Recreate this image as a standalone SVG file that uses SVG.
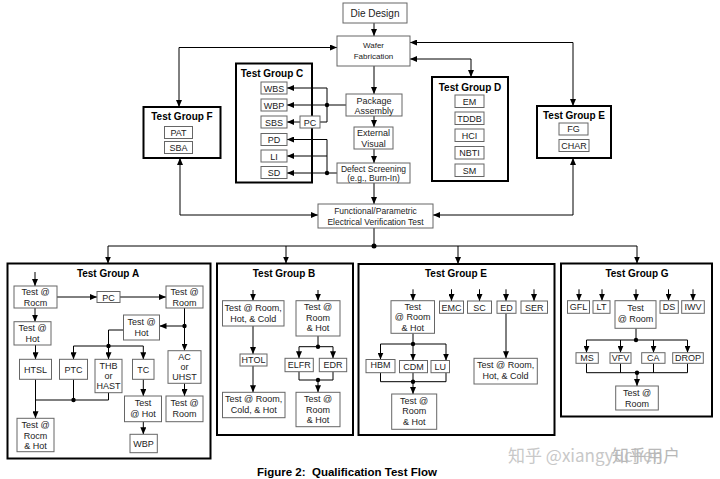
<svg xmlns="http://www.w3.org/2000/svg" width="720" height="479" viewBox="0 0 720 479">
<style>
.b{fill:#fff;stroke:#666;stroke-width:1}
.g{fill:none;stroke:#000;stroke-width:2}
text{font-family:"Liberation Sans",Arial,sans-serif;font-size:9px;text-anchor:middle;fill:#222}
.h{font-weight:bold;font-size:10px;fill:#000}
.s8{font-size:8px}
.s85{font-size:8.5px}
.s10{font-size:10px}
#connectors path{fill:none;stroke:#000;stroke-width:1}
.a{marker-end:url(#ah)}
.d{marker-start:url(#ah);marker-end:url(#ah)}
.wm{font-family:"Noto Sans CJK SC","Liberation Sans",sans-serif;font-size:17px;fill:#c8c8c8;text-anchor:start}
</style>
<defs>
<marker id="ah" viewBox="0 0 7 6" refX="7" refY="3" markerWidth="7" markerHeight="6" markerUnits="userSpaceOnUse" orient="auto-start-reverse">
<path d="M0,0 L7,3 L0,6 z" fill="#000"/>
</marker>
</defs>
<rect width="720" height="479" fill="#fff"/>

<g id="connectors">
<path class="a" d="M374,23 V36"/>
<path class="a" d="M374,66 V94"/>
<path class="a" d="M374,116 V127"/>
<path class="a" d="M374,149 V163"/>
<path class="a" d="M374,183 V204"/>
<path class="d" d="M179,107 V47.5 H337"/>
<path class="d" d="M180,158 V215 H318"/>
<path class="d" d="M410,42.5 H573 V106"/>
<path class="d" d="M573,158 V215 H433"/>
<path class="d" d="M410,59 H471 V77"/>
<path class="a" d="M346,105 H287"/>
<path class="a" d="M320,122 H327 V88 H287"/>
<path class="a" d="M300,122 H287"/>
<path class="a" d="M337,173 H287"/>
<path class="a" d="M327,173 V139.5 H287"/>
<path class="a" d="M327,156 H287"/>
<path d="M374,228 V246 M108,246 H637"/>
<path class="a" d="M108,246 V263.5"/>
<path class="a" d="M286,246 V263.5"/>
<path class="a" d="M458,246 V264"/>
<path class="a" d="M637,246 V263.5"/>
<!-- Group A -->
<path class="a" d="M35,272 V286"/>
<path class="a" d="M57,297 H97"/>
<path class="a" d="M120,297 H166"/>
<path class="a" d="M35,308 V321.7"/>
<path class="a" d="M184.5,308 V350.7"/>
<path class="a" d="M184.5,326 H159.5"/>
<path d="M123.5,330 H108.5 V346 M73.5,346 H143.3"/>
<path class="a" d="M73.5,346 V359.3"/>
<path class="a" d="M108.5,346 V359.3"/>
<path class="a" d="M143.3,346 V359.3"/>
<path class="a" d="M35.5,345 V359.3"/>
<path class="a" d="M35.5,379.3 V418.3"/>
<path d="M73.5,379.3 V400 M108.5,392.7 V400 M35.5,400 H108.5"/>
<path class="a" d="M143.3,379.3 V396"/>
<path class="a" d="M143.3,421.7 V434.3"/>
<path class="a" d="M184.5,383.3 V396"/>
<!-- Group B -->
<path class="a" d="M253,290 V300.7"/>
<path class="a" d="M253,326 V354"/>
<path class="a" d="M253,366 V392.3"/>
<path class="a" d="M318,290 V300.7"/>
<path d="M318,336 V346.7 M299,346.7 H333"/>
<path class="a" d="M299,346.7 V358.3"/>
<path class="a" d="M333,346.7 V358.3"/>
<path d="M299,371.7 V380 H333 V371.7"/>
<path class="a" d="M318,380 V392.3"/>
<!-- Group E bottom -->
<path class="a" d="M413,289.3 V300.7"/>
<path class="a" d="M451.5,289.3 V301"/>
<path class="a" d="M479.5,289.3 V301"/>
<path class="a" d="M506,289.3 V301"/>
<path class="a" d="M534,289.3 V301"/>
<path class="a" d="M506,313.3 V358.3"/>
<path d="M413,333.3 V344 M380.5,344 H446"/>
<path class="a" d="M380.5,344 V359.5"/>
<path class="a" d="M413,344 V360.5"/>
<path class="a" d="M446,344 V360.5"/>
<path d="M380.5,372.7 V381.7 H446 V372.7 M413,372.7 V381.7"/>
<path class="a" d="M413,381.7 V394"/>
<!-- Group G -->
<path class="a" d="M579,289.3 V300.7"/>
<path class="a" d="M602,289.3 V300.7"/>
<path class="a" d="M636,289.3 V300.7"/>
<path class="a" d="M668.5,289.3 V300.7"/>
<path class="a" d="M693,289.3 V300.7"/>
<path d="M636,328.3 V340 M586.5,340 H687.5"/>
<path class="a" d="M586.5,340 V352.7"/>
<path class="a" d="M620.5,340 V352.7"/>
<path class="a" d="M653.5,340 V352.7"/>
<path class="a" d="M687.5,340 V352.7"/>
<path d="M586.5,363.3 V372.7 H687.5 V363.3 M620.5,363.3 V372.7 M653.5,363.3 V372.7"/>
<path class="a" d="M637,372.7 V386"/>
<g fill="#000" stroke="none">
<circle cx="327" cy="105" r="2.2"/>
<circle cx="327" cy="173" r="2.2"/>
<circle cx="374" cy="246" r="2.5"/>
<circle cx="184.5" cy="326" r="2.2"/>
<circle cx="108.5" cy="346" r="2.2"/>
<circle cx="73.5" cy="400" r="2.2"/>
<circle cx="318" cy="346.7" r="2.2"/>
<circle cx="318" cy="380" r="2.2"/>
<circle cx="413" cy="344" r="2.2"/>
<circle cx="413" cy="381.7" r="2.2"/>
<circle cx="636" cy="340" r="2.2"/>
<circle cx="637" cy="372.7" r="2.2"/>
</g>
</g>

<g id="die-design"><rect class="b" x="343" y="3" width="64" height="20"/><text class="s10" x="375" y="17">Die Design</text></g>
<g id="wafer-fab"><rect class="b" x="337" y="36" width="73" height="30"/><text class="s8" x="373.5" y="48">Wafer</text><text class="s8" x="373.5" y="59">Fabrication</text></g>
<g id="package-assembly"><rect class="b" x="346" y="94" width="56" height="22"/><text x="374" y="103.5">Package</text><text x="374" y="113.5">Assembly</text></g>
<g id="external-visual"><rect class="b" x="354" y="127" width="39" height="22"/><text x="373.5" y="136">External</text><text x="373.5" y="146.5">Visual</text></g>
<g id="defect-screening"><rect class="b" x="337" y="163" width="73" height="20"/><text class="s85" x="373.5" y="171.5">Defect Screening</text><text class="s85" x="373.5" y="181">(e.g., Burn-In)</text></g>
<g id="functional-test"><rect class="b" x="318" y="204" width="115" height="24"/><text class="s85" x="375.5" y="213.5">Functional/Parametric</text><text class="s85" x="375.5" y="224.5">Electrical Verification Test</text></g>

<g id="group-f"><rect class="g" x="143.5" y="107" width="77" height="51"/><text class="h" x="182" y="120">Test Group F</text>
<rect class="b" x="164.5" y="126.5" width="28" height="12"/><text x="178.5" y="135.8">PAT</text>
<rect class="b" x="164.5" y="141.5" width="28" height="12"/><text x="178.5" y="150.8">SBA</text></g>

<g id="group-c"><rect class="g" x="236" y="63.5" width="76" height="119"/><text class="h" x="272" y="77">Test Group C</text>
<rect class="b" x="261" y="82" width="26" height="12"/><text x="274" y="91.5">WBS</text>
<rect class="b" x="261" y="99" width="26" height="12"/><text x="274" y="108.5">WBP</text>
<rect class="b" x="261" y="116" width="26" height="12"/><text x="274" y="125.5">SBS</text>
<rect class="b" x="261" y="133.5" width="26" height="12"/><text x="274" y="143">PD</text>
<rect class="b" x="261" y="150" width="26" height="12"/><text x="274" y="159.5">LI</text>
<rect class="b" x="261" y="166.5" width="26" height="12"/><text x="274" y="176">SD</text>
<rect class="b" x="300" y="116" width="20" height="12"/><text x="310" y="125.5">PC</text></g>

<g id="group-d"><rect class="g" x="432" y="77" width="76" height="104"/><text class="h" x="470" y="91">Test Group D</text>
<rect class="b" x="455" y="95" width="29" height="12.5"/><text x="469.5" y="104.5">EM</text>
<rect class="b" x="455" y="112" width="29" height="12.5"/><text x="469.5" y="121.5">TDDB</text>
<rect class="b" x="455" y="129" width="29" height="12.5"/><text x="469.5" y="138.5">HCI</text>
<rect class="b" x="455" y="146.5" width="29" height="12.5"/><text x="469.5" y="156">NBTI</text>
<rect class="b" x="455" y="164" width="29" height="12.5"/><text x="469.5" y="173.5">SM</text></g>

<g id="group-e-top"><rect class="g" x="537" y="106" width="74" height="52"/><text class="h" x="574" y="119">Test Group E</text>
<rect class="b" x="559" y="123" width="29" height="12"/><text x="573.5" y="132.3">FG</text>
<rect class="b" x="559" y="139.5" width="30" height="12"/><text x="574" y="148.8">CHAR</text></g>

<g id="group-a"><rect class="g" x="7.5" y="263.5" width="203" height="195"/><text class="h" x="108" y="276.5">Test Group A</text>
<rect class="b" x="14" y="286" width="43" height="22"/><text x="35.5" y="295">Test @</text><text x="35.5" y="305.5">Rocm</text>
<rect class="b" x="97" y="291.5" width="23" height="11"/><text x="108.5" y="300.5">PC</text>
<rect class="b" x="166" y="286" width="37" height="22"/><text x="184.5" y="295">Test @</text><text x="184.5" y="305.5">Room</text>
<rect class="b" x="14" y="321.7" width="37" height="23.3"/><text x="32.5" y="331">Test @</text><text x="32.5" y="341.5">Hot</text>
<rect class="b" x="123.5" y="315" width="36" height="25"/><text x="141.5" y="325">Test @</text><text x="141.5" y="336">Hot</text>
<rect class="b" x="19.5" y="359.3" width="32" height="20"/><text x="35.5" y="372.5">HTSL</text>
<rect class="b" x="59.5" y="359.3" width="28" height="20"/><text x="73.5" y="372.5">PTC</text>
<rect class="b" x="95" y="359.3" width="27" height="33.4"/><text x="108.5" y="368.5">THB</text><text x="108.5" y="378.5">or</text><text x="108.5" y="388.5">HAST</text>
<rect class="b" x="132.5" y="359.3" width="21.5" height="20"/><text x="143.3" y="372.5">TC</text>
<rect class="b" x="168" y="350.7" width="33" height="32.6"/><text x="184.5" y="360">AC</text><text x="184.5" y="370">or</text><text x="184.5" y="380">UHST</text>
<rect class="b" x="17" y="418.3" width="37" height="33.4"/><text x="35.5" y="428">Test @</text><text x="35.5" y="438.5">Rocm</text><text x="35.5" y="449">&amp; Hot</text>
<rect class="b" x="124.5" y="396" width="37" height="25.7"/><text x="143" y="405.5">Test</text><text x="143" y="416.5">@ Hot</text>
<rect class="b" x="130" y="434.3" width="27.3" height="18.4"/><text x="143.6" y="446.5">WBP</text>
<rect class="b" x="166" y="396" width="37" height="25.7"/><text x="184.5" y="405.5">Test @</text><text x="184.5" y="416.5">Room</text></g>

<g id="group-b"><rect class="g" x="217" y="263.5" width="136" height="171.5"/><text class="h" x="284" y="277">Test Group B</text>
<rect class="b" x="222.5" y="300.7" width="61.5" height="25.3"/><text x="253.2" y="310.5">Test @ Room,</text><text x="253.2" y="321.5">Hot, &amp; Cold</text>
<rect class="b" x="240" y="354" width="27" height="12"/><text x="253.5" y="363.3">HTOL</text>
<rect class="b" x="222.5" y="392.3" width="62.5" height="25.4"/><text x="253.7" y="402">Test @ Room,</text><text x="253.7" y="413">Cold, &amp; Hot</text>
<rect class="b" x="296" y="300.7" width="44" height="35.3"/><text x="318" y="310">Test @</text><text x="318" y="320.5">Room</text><text x="318" y="331">&amp; Hot</text>
<rect class="b" x="285" y="358.3" width="28.3" height="13.4"/><text x="299.2" y="368.3">ELFR</text>
<rect class="b" x="319.3" y="358.3" width="27.4" height="13.4"/><text x="333" y="368.3">EDR</text>
<rect class="b" x="296" y="392.3" width="44" height="34.4"/><text x="318" y="402">Test @</text><text x="318" y="412.5">Room</text><text x="318" y="423">&amp; Hot</text></g>

<g id="group-e-bottom"><rect class="g" x="358.5" y="264" width="196" height="171"/><text class="h" x="456" y="276.5">Test Group E</text>
<rect class="b" x="391" y="300.7" width="43.5" height="32.6"/><text x="412.7" y="309.5">Test</text><text x="412.7" y="320">@ Room</text><text x="412.7" y="330.5">&amp; Hot</text>
<rect class="b" x="439.5" y="301" width="24" height="12.3"/><text x="451.5" y="310.5">EMC</text>
<rect class="b" x="467.5" y="301" width="24" height="12.3"/><text x="479.5" y="310.5">SC</text>
<rect class="b" x="497" y="301" width="19" height="12.3"/><text x="506.5" y="310.5">ED</text>
<rect class="b" x="521" y="301" width="26.5" height="12.3"/><text x="534.2" y="310.5">SER</text>
<rect class="b" x="474" y="358.3" width="63.3" height="25.7"/><text x="505.6" y="368">Test @ Room,</text><text x="505.6" y="379">Hot, &amp; Cold</text>
<rect class="b" x="366" y="359.5" width="29" height="13.2"/><text x="380.5" y="367.8">HBM</text>
<rect class="b" x="399.5" y="360.5" width="28" height="12.2"/><text x="413.5" y="369.8">CDM</text>
<rect class="b" x="431" y="360.5" width="18.5" height="12.2"/><text x="440.2" y="369.8">LU</text>
<rect class="b" x="391.7" y="394" width="45" height="35.3"/><text x="414.2" y="403.5">Test @</text><text x="414.2" y="414">Room</text><text x="414.2" y="424.5">&amp; Hot</text></g>

<g id="group-g"><rect class="g" x="561" y="263.5" width="151" height="153"/><text class="h" x="637" y="277">Test Group G</text>
<rect class="b" x="567.5" y="300.7" width="22" height="12.6"/><text x="578.5" y="310.3">GFL</text>
<rect class="b" x="593" y="300.7" width="17" height="12.6"/><text x="601.5" y="310.3">LT</text>
<rect class="b" x="615" y="300.7" width="41" height="27.6"/><text x="635.5" y="310.5">Test</text><text x="635.5" y="322">@ Room</text>
<rect class="b" x="660" y="300.7" width="18.3" height="12.6"/><text x="669" y="310.3">DS</text>
<rect class="b" x="681.7" y="300.7" width="22.6" height="12.6"/><text x="693" y="310.3">IWV</text>
<rect class="b" x="576" y="352.7" width="22.3" height="10.6"/><text x="587" y="361">MS</text>
<rect class="b" x="610" y="352.7" width="21" height="10.6"/><text x="620.5" y="361">VFV</text>
<rect class="b" x="641.7" y="352.7" width="23.3" height="10.6"/><text x="653.3" y="361">CA</text>
<rect class="b" x="672.7" y="352.7" width="30.6" height="10.6"/><text x="688" y="361">DROP</text>
<rect class="b" x="615.7" y="386" width="42.6" height="24"/><text x="637" y="395.5">Test @</text><text x="637" y="406.5">Room</text></g>

<text x="347" y="476" style="font-weight:bold;font-size:11.5px;fill:#000;white-space:pre">Figure 2:  Qualification Test Flow</text>
<text class="wm" x="508" y="462">知乎 @xiangyuchen</text>
<text class="wm" x="612" y="462" style="fill:#b8b8b8">知乎用户</text>
</svg>
